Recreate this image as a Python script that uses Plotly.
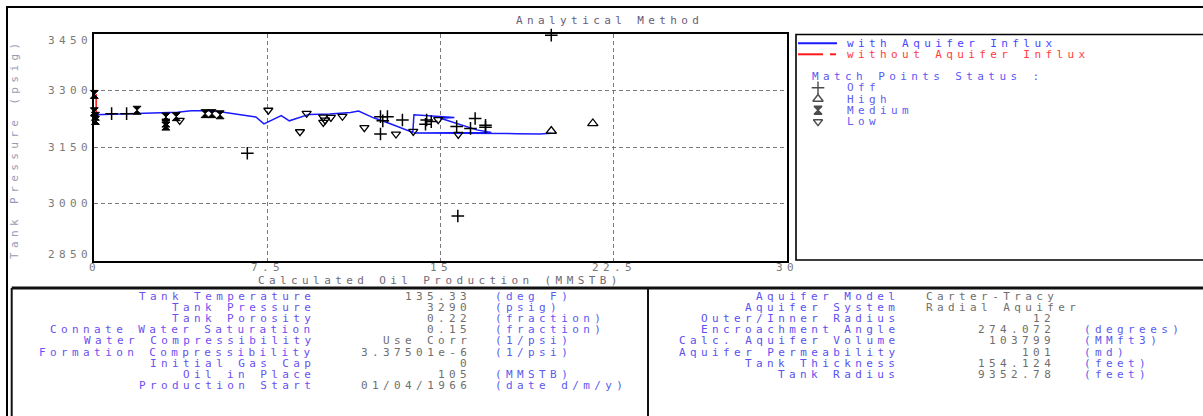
import plotly.graph_objects as go

# ---------------- data ----------------
x_ticks = [0, 7.5, 15, 22.5, 30]
x_tick_labels = ["0", "7.5", "15", "22.5", "30"]
y_ticks = [2850, 3000, 3150, 3300, 3450]
y_tick_labels = ["2850", "3000", "3150", "3300", "3450"]

with_influx_x = [0.05, 0.7, 1.5, 2.7, 3.6, 4.2, 5.0, 5.6, 6.6, 7.0, 7.35, 8.1, 8.45, 9.3, 10.2,
                 11.1, 11.45, 12.1, 12.8, 13.25, 13.8, 13.85, 14.7, 15.6, 15.0, 16.57, 17.2,
                 13.85, 18.3, 19.3, 19.8]
with_influx_y = [3236, 3237, 3238, 3240, 3243, 3247, 3247, 3243, 3235, 3230, 3212, 3234, 3220, 3237, 3238,
                 3242, 3246, 3228, 3213, 3203, 3189, 3236, 3233, 3229, 3227, 3196, 3189,
                 3188, 3186, 3185, 3187]
without_influx_x = [0.08, 0.08]
without_influx_y = [3291, 3218]

off_x = [0.75, 1.4, 6.63, 12.4, 12.7, 12.5, 13.35, 12.4, 14.4, 14.6, 14.35, 15.7, 16.3, 16.5, 16.95, 16.95, 15.75, 19.8]
off_y = [3239, 3239, 3134, 3231, 3231, 3220, 3222, 3185, 3222, 3218, 3211, 3205, 3200, 3226, 3208, 3203, 2968, 3447]
high_x = [19.8, 21.6]
high_y = [3193, 3213]
medium_x = [0.0, 0.0, 0.05, 0.05, 1.85, 3.1, 3.1, 3.1, 3.55, 4.8, 5.1, 5.45]
medium_y = [3290, 3244, 3232, 3221, 3248, 3230, 3214, 3206, 3231, 3239, 3239, 3236]
low_x = [3.7, 7.54, 8.91, 9.2, 9.92, 10.0, 9.92, 10.25, 10.75, 11.7, 13.07, 13.82, 14.9, 15.77]
low_y = [3221, 3248, 3191, 3240, 3230, 3222, 3216, 3229, 3232, 3202, 3185, 3192, 3223, 3184]

legend_status = ["Off", "High", "Medium", "Low"]

tank_labels = ["Tank Temperature", "Tank Pressure", "Tank Porosity", "Connate Water Saturation",
               "Water Compressibility", "Formation Compressibility", "Initial Gas Cap",
               "Oil in Place", "Production Start"]
tank_values = ["135.33", "3290", "0.22", "0.15", "Use Corr", "3.37501e-6", "0", "105", "01/04/1966"]
tank_units = ["(deg F)", "(psig)", "(fraction)", "(fraction)", "(1/psi)", "(1/psi)", "",
              "(MMSTB)", "(date d/m/y)"]

aquifer_labels = ["Aquifer Model", "Aquifer System", "Outer/Inner Radius", "Encroachment Angle",
                  "Calc. Aquifer Volume", "Aquifer Permeability", "Tank Thickness", "Tank Radius"]
aquifer_values = ["Carter-Tracy", "Radial Aquifer", "12", "274.072", "103799", "101", "154.124", "9352.78"]
aquifer_units = ["", "", "", "(degrees)", "(MMft3)", "(md)", "(feet)", "(feet)"]

# ---------------- styling helpers ----------------
W, H = 1203, 416
FONT = "DejaVu Sans Mono"
LS = 4.4


def sp(s, ls=LS):
    return '<span style="letter-spacing:%spx">%s</span>' % (ls, s)


annotations = []


def txt(x, y, s, color, anchor="left", size=11, angle=0, ls=LS, xref="x2", yref="y2", yshift=0):
    annotations.append(dict(
        xref=xref, yref=yref, x=x, y=y, text=sp(s, ls), showarrow=False,
        xanchor=anchor, yanchor="middle", textangle=angle, yshift=yshift,
        font=dict(family=FONT, size=size, color=color)))


shapes = []


def line(x0, y0, x1, y1, color="black", width=2, dash=None):
    d = dict(type="line", xref="x2", yref="y2", x0=x0, y0=y0, x1=x1, y1=y1,
             line=dict(color=color, width=width))
    if dash:
        d["line"]["dash"] = dash
    shapes.append(d)


fig = go.Figure()

# ---------------- main plot ----------------
fig.add_trace(go.Scatter(x=with_influx_x, y=with_influx_y, mode="lines",
                         line=dict(color="#1a1aff", width=1.5), showlegend=False))
fig.add_trace(go.Scatter(x=without_influx_x, y=without_influx_y, mode="lines",
                         line=dict(color="#ff1a1a", width=1.6), showlegend=False))
fig.add_trace(go.Scatter(x=off_x, y=off_y, mode="markers", cliponaxis=False, showlegend=False,
                         marker=dict(symbol="cross-thin", size=9, color="black",
                                     line=dict(width=1.5, color="black"))))
fig.add_trace(go.Scatter(x=high_x, y=high_y, mode="markers", cliponaxis=False, showlegend=False,
                         marker=dict(symbol="triangle-up-open", size=9, color="black",
                                     line=dict(width=1.3, color="black"))))
fig.add_trace(go.Scatter(x=medium_x, y=medium_y, mode="markers", cliponaxis=False, showlegend=False,
                         marker=dict(symbol="hourglass", size=8, color="black",
                                     line=dict(width=1, color="black"))))
fig.add_trace(go.Scatter(x=low_x, y=low_y, mode="markers", cliponaxis=False, showlegend=False,
                         marker=dict(symbol="triangle-down-open", size=8, color="black",
                                     line=dict(width=1.3, color="black"))))

# legend keys (pixel overlay axes)
leg_rows = [87.7, 99.0, 110.3, 121.7]
fig.add_trace(go.Scatter(x=[818] * 4, y=leg_rows, xaxis="x2", yaxis="y2", mode="markers",
                         cliponaxis=False, showlegend=False, hoverinfo="skip",
                         marker=dict(symbol=["cross-thin", "triangle-up-open", "hourglass", "triangle-down-open"],
                                     size=[9, 9, 8, 8], color="black",
                                     line=dict(width=1.4, color="black"))))

# frames
shapes.append(dict(type="rect", xref="x2", yref="y2", x0=7, y0=7, x1=1215, y1=430,
                   line=dict(color="black", width=2)))
shapes.append(dict(type="rect", xref="x2", yref="y2", x0=796, y0=34.5, x1=1215, y1=260,
                   line=dict(color="black", width=1.6)))
line(11.7, 288, 1215, 288, "#111", 3)
line(11.7, 288, 11.7, 430, "#111", 2)
line(648, 288, 648, 430, "#111", 2)

# legend lines
line(798, 43.3, 837, 43.3, "#1a1aff", 2)
line(798, 54.3, 823, 54.3, "#ff1a1a", 2)
line(830, 54.3, 836, 54.3, "#ff1a1a", 2)

# titles
txt(609, 20.5, "Analytical Method", "#6a5c78", "center")
txt(440, 280, "Calculated Oil Production (MMSTB)", "#6f6a7a", "center")
txt(14, 149, "Tank Pressure (psig)", "#9a9ab4", "center", angle=-90)

# tick labels (axis values placed by the data axes)
for i, (v, t) in enumerate(zip(x_ticks, x_tick_labels)):
    txt(v, 267, t, "#7a7a7a", "center", xref="x", yref="y2")
for i, (v, t) in enumerate(zip(y_ticks, y_tick_labels)):
    shift = 6 if i == 0 else (-6 if i == len(y_ticks) - 1 else 0)
    txt(94, v, t, "#7a7a7a", "right", xref="x2", yref="y", yshift=shift)

# legend texts
txt(845, 43.3, "with Aquifer Influx", "#4646ff")
txt(845, 54.3, "without Aquifer Influx", "#ff3c3c")
txt(810, 76.7, "Match Points Status :", "#5a5af2")
for r, s in zip(leg_rows, legend_status):
    txt(845, r, s, "#6060f0")

# bottom tables
row0, dy = 296.0, 11.2
for i, (lab, val, unit) in enumerate(zip(tank_labels, tank_values, tank_units)):
    y = row0 + dy * i
    txt(317, y, lab, "#6b4ff0", "right")
    txt(473, y, val, "#6e6e6e", "right")
    if unit:
        txt(493, y, unit, "#5a5af0")
for i, (lab, val, unit) in enumerate(zip(aquifer_labels, aquifer_values, aquifer_units)):
    y = row0 + dy * i
    txt(901, y, lab, "#5a50f0", "right")
    if any(c.isalpha() for c in val):
        txt(924, y, val, "#6e6e6e", "left")
    else:
        txt(1057, y, val, "#6e6e6e", "right")
    if unit:
        txt(1082, y, unit, "#5a5af0")

grid = dict(showgrid=True, gridcolor="#7a7a7a", gridwidth=1, griddash="4px,3px",
            zeroline=False, showline=True, mirror=True, linecolor="black", linewidth=2,
            ticks="", showticklabels=False, automargin=False)

fig.update_layout(
    width=W, height=H, margin=dict(l=0, r=0, t=0, b=0, pad=0, autoexpand=False),
    paper_bgcolor="white", plot_bgcolor="rgba(0,0,0,0)",
    showlegend=False,
    xaxis=dict(domain=[94.3 / W, 786.7 / W], range=[0, 30], tickvals=x_ticks, **grid),
    yaxis=dict(domain=[1 - 260.5 / H, 1 - 34 / H], range=[2850, 3450], tickvals=y_ticks, **grid),
    xaxis2=dict(domain=[0, 1], range=[0, W], visible=False, anchor="y2", fixedrange=True, automargin=False),
    yaxis2=dict(domain=[0, 1], range=[H, 0], visible=False, anchor="x2", fixedrange=True, automargin=False),
    shapes=shapes, annotations=annotations,
)

fig.write_html("out.html", config={"displayModeBar": False},
               post_script="document.body.style.margin='0';document.body.style.overflow='hidden';")
